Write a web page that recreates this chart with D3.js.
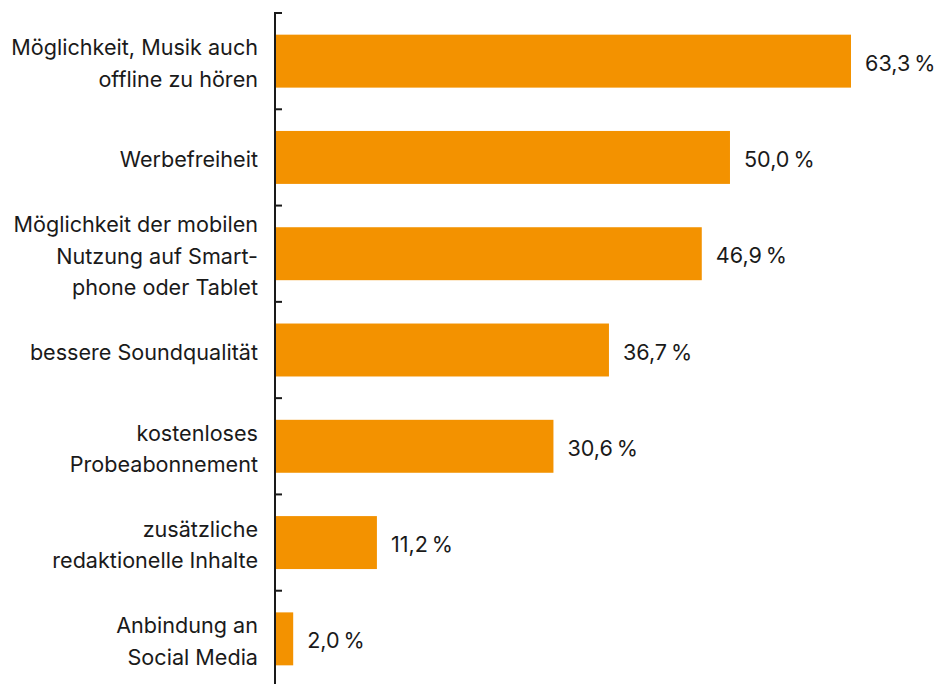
<!DOCTYPE html>
<html>
<head>
<meta charset="utf-8">
<script src="https://cdn.jsdelivr.net/npm/d3@7"></script>
<style>
  body { margin: 0; background: #fff; }
  text { font-family: Inter, "Liberation Sans", Arial, sans-serif; fill: #1a1a1a; }
</style>
</head>
<body>
<div id="chart_div"></div>
<script>
// Data
const categories = [
  ["Möglichkeit, Musik auch", "offline zu hören"],
  ["Werbefreiheit"],
  ["Möglichkeit der mobilen", "Nutzung auf Smart-", "phone oder Tablet"],
  ["bessere Soundqualität"],
  ["kostenloses", "Probeabonnement"],
  ["zusätzliche", "redaktionelle Inhalte"],
  ["Anbindung an", "Social Media"]
];
const values = [63.3, 50.0, 46.9, 36.7, 30.6, 11.2, 2.0];

const width = 937;
const height = 684;
const axisX = 275;
const fontSize = 21.6;

const svg = d3.select("#chart_div").append("svg")
  .attr("width", width)
  .attr("height", height);

// Bands: boundaries line up with the axis ticks
const y = d3.scaleBand()
  .domain(d3.range(values.length))
  .range([13, 687])
  .paddingInner(0.45)
  .paddingOuter(0.225);

const step = y.step();

const x = d3.scaleLinear()
  .domain([0, 63.3])
  .range([axisX, 851]);

// Bars
svg.append("g")
  .selectAll("rect")
  .data(values)
  .join("rect")
  .attr("x", x(0))
  .attr("y", (d, i) => y(i))
  .attr("width", d => x(d) - x(0))
  .attr("height", y.bandwidth())
  .attr("fill", "#f39200");

// Value labels
svg.append("g")
  .selectAll("text")
  .data(values)
  .join("text")
  .attr("x", d => x(d) + 14)
  .attr("y", (d, i) => y(i) + y.bandwidth() / 2 + 2)
  .attr("dy", "0.35em")
  .attr("font-size", fontSize)
  .text(d => d.toFixed(1).replace(".", ",") + "\u2009%");

// Category labels (multi-line, right aligned)
const lineH = 31.5;
const labels = svg.append("g")
  .selectAll("text")
  .data(categories)
  .join("text")
  .attr("text-anchor", "end")
  .attr("font-size", fontSize)
  .attr("y", (d, i) => y(i) + y.bandwidth() / 2 + 2.5 - (d.length - 1) * lineH / 2);

labels.selectAll("tspan")
  .data(d => d)
  .join("tspan")
  .attr("x", 258)
  .attr("dy", (d, j) => j === 0 ? "0.35em" : lineH)
  .text(d => d);

// Axis line with ticks at band boundaries, pointing right
const ax = svg.append("g")
  .attr("stroke", "#1a1a1a")
  .attr("stroke-width", 2);

ax.append("line")
  .attr("x1", axisX).attr("x2", axisX)
  .attr("y1", 12).attr("y2", height);

ax.selectAll(".tick")
  .data(d3.range(values.length + 1))
  .join("line")
  .attr("class", "tick")
  .attr("x1", axisX).attr("x2", axisX + 7)
  .attr("y1", i => 13 + i * step)
  .attr("y2", i => 13 + i * step);
</script>
</body>
</html>
